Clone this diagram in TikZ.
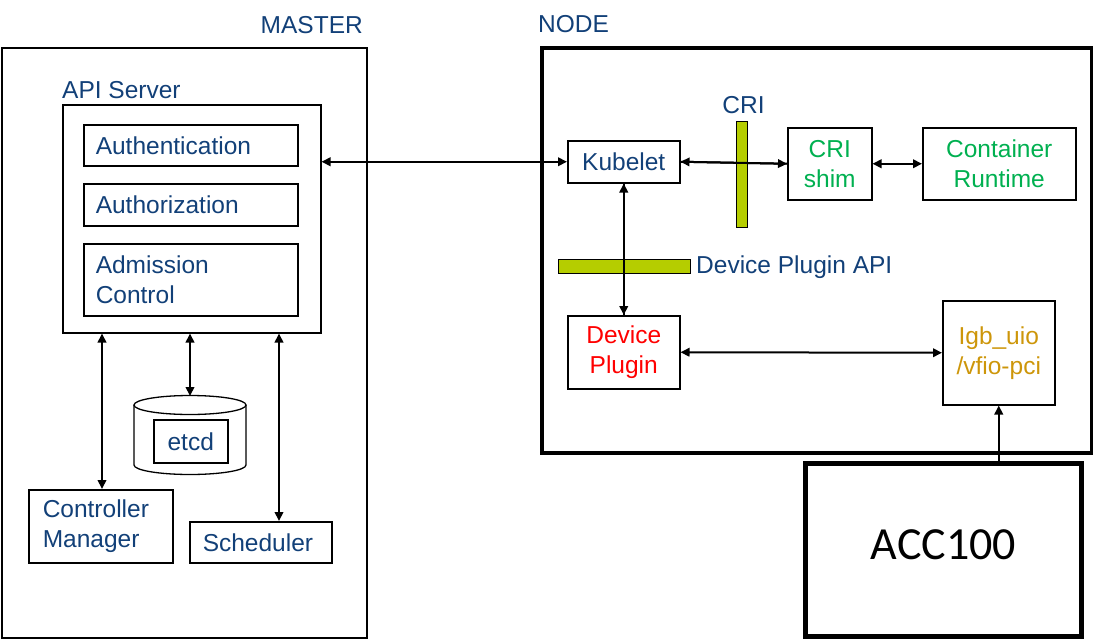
\documentclass[tikz,border=0pt]{standalone}
\usepackage{fontspec}
\setmainfont{Liberation Sans}
\newfontfamily\calibrifont{Carlito}
\usetikzlibrary{arrows.meta}
\definecolor{kblue}{RGB}{18,64,120}
\definecolor{kgreen}{RGB}{0,176,80}
\definecolor{kgold}{RGB}{205,150,10}
\definecolor{kbar}{RGB}{181,205,0}
\tikzset{
  txt/.style={font=\fontsize{24.5}{30}\selectfont, text=kblue, inner sep=0pt},
  box/.style={draw, line width=1.5pt, inner sep=0pt, anchor=north west, font=\fontsize{24.5}{30}\selectfont, align=center},
  lbox/.style={box, align=left},
  bar/.style={draw, line width=1pt, fill=kbar, inner sep=0pt, anchor=north west},
  tip/.tip={Triangle[length=9pt,width=8.5pt]},
  arr/.style={line width=2pt, tip-tip},
  arrone/.style={line width=2pt, -tip},
}
\begin{document}
\begin{tikzpicture}[x=1pt,y=-1pt]
\useasboundingbox (0,0) rectangle (1093,640);
% containers
\node[draw, line width=2pt, inner sep=0pt, anchor=north west, minimum width=365, minimum height=590] (master) at (1,47) {};
\node[txt, anchor=base east] (masterlbl) at (363,33) {MASTER};
\node[draw, line width=4pt, inner sep=0pt, anchor=north west, minimum width=550, minimum height=405] (nodebox) at (540,46) {};
\node[txt, anchor=base west] (nodelbl) at (538,32) {NODE};
% API server
\node[txt, anchor=base west] (apilbl) at (62,98) {API Server};
\node[box, minimum width=258, minimum height=228] (api) at (62,104) {};
\node[lbox, minimum height=41, text width=190, inner xsep=12, text=kblue] (authn) at (83,124) {Authentication};
\node[lbox, minimum height=42, text width=190, inner xsep=12, text=kblue] (authz) at (83,183) {Authorization};
\node[lbox, minimum height=72, text width=190, inner xsep=12, text=kblue] (adm) at (83,243) {Admission\\Control};
% etcd
\draw[line width=1.3pt, fill=white] (134,405) -- (134,465) arc[start angle=180, end angle=360, x radius=56pt, y radius=9.5pt] -- (246,405);
\draw[line width=1.3pt] (190,405) ellipse [x radius=56pt, y radius=9.5pt];
\coordinate (etcdtop) at (190,396);
\node[box, minimum width=74, minimum height=43, text=kblue] (etcd) at (153,419) {etcd};
% controller manager, scheduler
\node[lbox, minimum height=73, text width=116, inner xsep=14, text=kblue] (cm) at (28,489) {Controller\\Manager};
\node[lbox, minimum height=41, text width=116, inner xsep=13, text=kblue] (sched) at (189,521) {Scheduler};
\coordinate (schedtop) at (279,521);
\coordinate (cmtop) at (102,489);
% node side
\node[box, minimum width=112, minimum height=42, text=kblue] (kubelet) at (567,140) {Kubelet};
\node[txt, anchor=base] (crilbl) at (743.5,113) {CRI};
\node[box, minimum width=84, minimum height=72, text=kgreen] (crishim) at (787,127) {CRI\\shim};
\node[box, minimum width=153, minimum height=72, text=kgreen] (runtime) at (922,127) {Container\\Runtime};
\node[box, minimum width=112, minimum height=73, text=red] (devplugin) at (567,315) {Device\\Plugin};
\node[box, minimum width=112, minimum height=104, text=kgold] (igb) at (942,300) {Igb\_uio\\/vfio-pci};
\node[draw, line width=5pt, inner sep=0pt, anchor=north west, minimum width=276, minimum height=173, text depth=11pt, font=\calibrifont\fontsize{46}{50}\selectfont] (acc) at (803,461) {ACC100};
\node[txt, anchor=base west] (dpapilbl) at (696,273) {Device Plugin API};
% arrows
\draw[arr] (api.east |- kubelet.west) -- (kubelet.west);
\draw[arr] (kubelet.east) -- (crishim.west);
\draw[arr] (crishim.east) -- (runtime.west);
\draw[arr] (kubelet.south) -- (devplugin.north);
\draw[arr] (devplugin.east) -- (igb.west);
\draw[arrone] (igb.south |- acc.north) -- (igb.south);
\draw[arr] (api.south -| cmtop) -- (cmtop);
\draw[arr] (api.south -| etcdtop) -- (etcdtop);
\draw[arr] (api.south -| schedtop) -- (schedtop);
% API bars (drawn over the arrows)
\node[bar, minimum width=11, minimum height=106] (cribar) at (736,121) {};
\node[bar, minimum width=132, minimum height=14] (dpbar) at (558,259) {};
\draw[line width=2pt] (kubelet.south) -- (devplugin.north);
\draw[line width=2pt] (kubelet.east) -- (crishim.west);
\end{tikzpicture}
\end{document}
